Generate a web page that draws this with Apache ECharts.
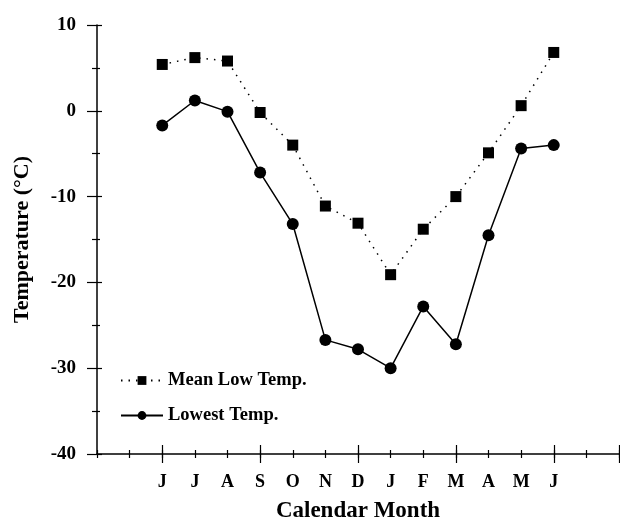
<!DOCTYPE html>
<html>
<head>
<meta charset="utf-8">
<script src="https://cdn.jsdelivr.net/npm/echarts@6/dist/echarts.min.js"></script>
<style>
  html, body { margin: 0; padding: 0; background: #fff; }
  #chart1 { width: 620px; height: 523px; }
</style>
</head>
<body>
<div id="chart1"></div>
<script>
// months shown on the axis, first one sits at x = 2
var months = ['J', 'J', 'A', 'S', 'O', 'N', 'D', 'J', 'F', 'M', 'A', 'M', 'J'];
var meanLow = [5.4, 6.2, 5.8, -0.2, -4.0, -11.1, -13.1, -19.1, -13.8, -10.0, -4.9, 0.6, 6.8];
var lowest = [-1.7, 1.2, -0.1, -7.2, -13.2, -26.7, -27.8, -30.0, -22.8, -27.2, -14.5, -4.4, -4.0];
var majorTicks = [2, 5, 8, 11, 14, 16];
var yTicks = [-40, -30, -20, -10, 0, 10];

var offset = 2;
var font = 'Liberation Serif';

function toPoints(arr) {
    return arr.map(function (v, i) { return [i + offset, v]; });
}
var labelPos = months.map(function (m, i) { return i + offset; });

var myChart1 = echarts.init(document.getElementById('chart1'));

// base x axis settings, copied for the overlay axes that only draw ticks
function xAx(extra) {
    var a = {
        type: 'value',
        min: 0,
        max: 16,
        interval: 1,
        position: 'bottom',
        splitLine: { show: false },
        axisLine: { show: false, onZero: false },
        axisLabel: { show: false },
        axisTick: { show: true, length: 4, lineStyle: { color: '#000', width: 1.2 } }
    };
    return Object.assign(a, extra);
}

var option = {
    animation: false,
    backgroundColor: '#fff',
    grid: { left: 97, right: 1, top: 25, bottom: 69, containLabel: false, outerBoundsMode: 'none' },
    legend: {
        orient: 'vertical',
        left: 115,
        top: 366,
        itemWidth: 42,
        itemHeight: 11,
        itemGap: 16,
        textStyle: {
            fontFamily: font, fontWeight: 'bold', fontSize: 18.5, color: '#000',
            lineHeight: 18, padding: [0, 0, 0, 0]
        },
        data: ['Mean Low Temp.', 'Lowest Temp.']
    },
    xAxis: [
        xAx({
            axisLine: { show: true, onZero: false, lineStyle: { color: '#000', width: 1.5 } },
            name: 'Calendar Month',
            nameLocation: 'middle',
            nameGap: 46,
            nameTextStyle: { fontFamily: font, fontWeight: 'bold', fontSize: 23, color: '#000' },
            axisLabel: {
                show: true,
                customValues: labelPos,
                margin: 19,
                fontFamily: font, fontWeight: 'bold', fontSize: 18, color: '#000',
                formatter: function (v) { return months[v - offset]; }
            }
        }),
        xAx({ axisTick: { show: true, inside: true, length: 4, lineStyle: { color: '#000', width: 1.2 } } }),
        xAx({ axisTick: { show: true, customValues: majorTicks, length: 9, lineStyle: { color: '#000', width: 1.2 } } }),
        xAx({ axisTick: { show: true, customValues: majorTicks, inside: true, length: 9, lineStyle: { color: '#000', width: 1.2 } } })
    ],
    yAxis: [
        {
            type: 'value',
            min: -40,
            max: 10,
            interval: 10,
            splitLine: { show: false },
            name: 'Temperature (°C)',
            nameLocation: 'middle',
            nameGap: 64,
            nameTextStyle: { fontFamily: font, fontWeight: 'bold', fontSize: 22, color: '#000' },
            axisLine: { show: true, onZero: false, lineStyle: { color: '#000', width: 1.5 } },
            axisTick: { show: true, length: 10, lineStyle: { color: '#000', width: 1.2 } },
            minorTick: { show: true, splitNumber: 2, length: 5, lineStyle: { color: '#000', width: 1.2 } },
            axisLabel: {
                margin: 21,
                customValues: yTicks,
                fontFamily: font, fontWeight: 'bold', fontSize: 19, color: '#000'
            }
        },
        {
            type: 'value',
            min: -40,
            max: 10,
            interval: 10,
            position: 'left',
            splitLine: { show: false },
            axisLine: { show: false, onZero: false },
            axisLabel: { show: false },
            axisTick: { show: true, inside: true, length: 5, lineStyle: { color: '#000', width: 1.2 } },
            minorTick: { show: true, splitNumber: 2, length: 3, lineStyle: { color: '#000', width: 1.2 } }
        }
    ],
    series: [
        {
            name: 'Mean Low Temp.',
            type: 'line',
            data: toPoints(meanLow),
            symbol: 'rect',
            symbolSize: 11,
            itemStyle: { color: '#000' },
            lineStyle: { color: '#000', width: 1.5, type: [1.5, 6] }
        },
        {
            name: 'Lowest Temp.',
            type: 'line',
            data: toPoints(lowest),
            symbol: 'circle',
            symbolSize: 12,
            itemStyle: { color: '#000' },
            lineStyle: { color: '#000', width: 1.5 }
        }
    ]
};

myChart1.setOption(option);

window.onresize = function () {
    myChart1.resize();
}
</script>
</body>
</html>
